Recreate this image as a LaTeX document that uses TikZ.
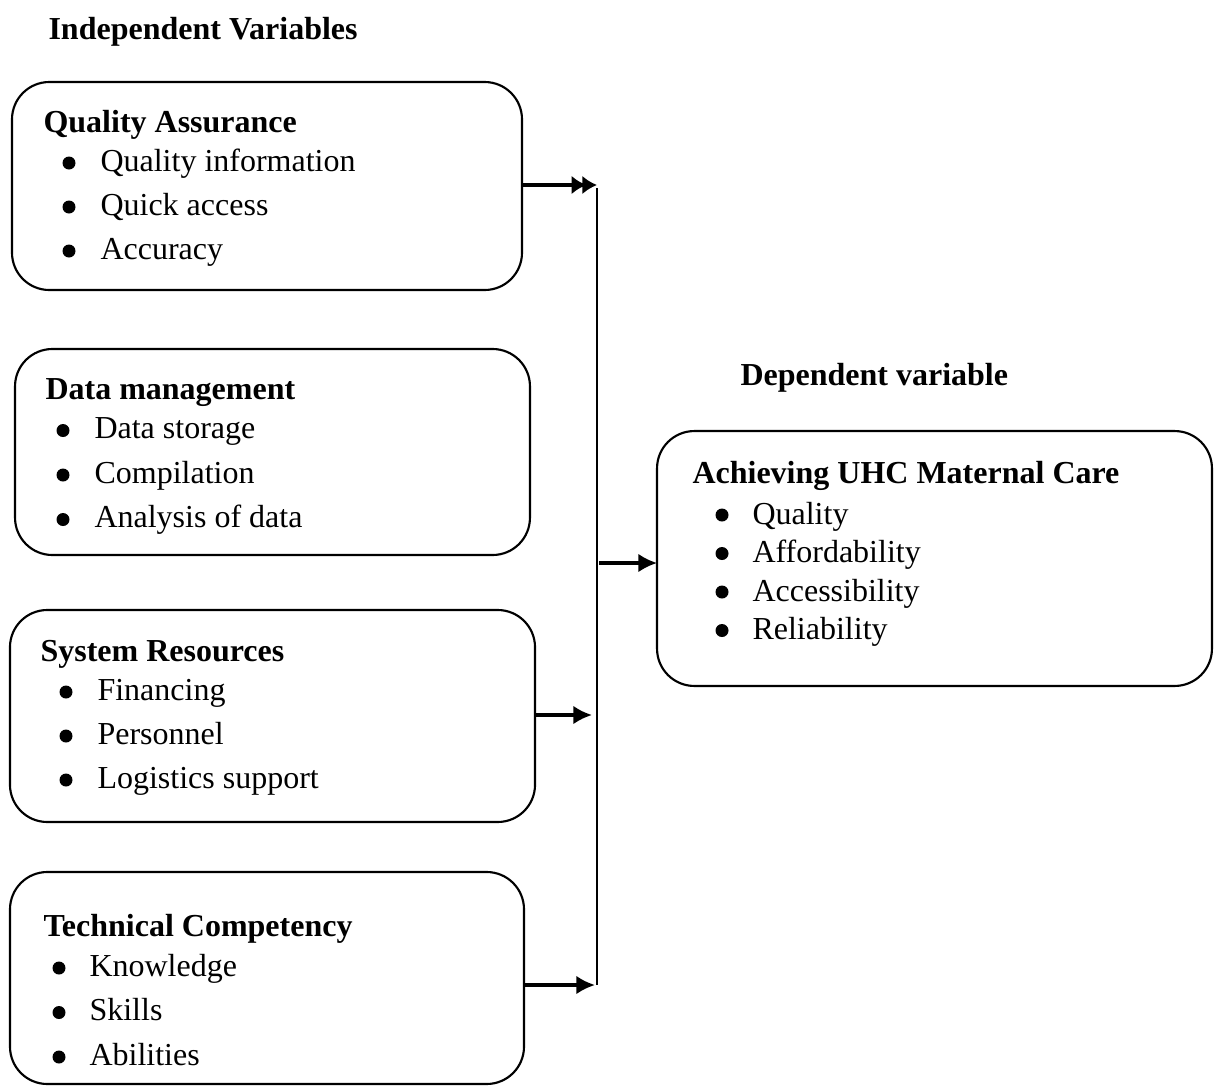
\documentclass[tikz,border=0pt]{standalone}
\usepackage{fontspec}
\setmainfont{Liberation Serif}
\usetikzlibrary{arrows.meta}
\tikzset{
  varbox/.style={draw=black, line width=0.8pt, rounded corners=14pt, inner sep=0pt, outer sep=0pt},
  heading/.style={anchor=base west, inner sep=0pt, font=\fontsize{12}{14}\selectfont\bfseries},
  boxtitle/.style={anchor=base west, inner sep=0pt, font=\fontsize{12}{14}\selectfont\bfseries},
  boxitem/.style={anchor=base west, inner sep=0pt, font=\fontsize{12}{14}\selectfont},
  arrow/.style={-{Latex[length=7pt,width=7pt]}, line width=1.2pt},
  dblarrow/.style={-{Latex[length=5.5pt,width=7pt,sep=-1.5pt]Latex[length=5.5pt,width=7pt]}, line width=1.2pt},
  busline/.style={line width=0.8pt}
}
\begin{document}
\begin{tikzpicture}[x=0.375pt, y=-0.375pt]
\useasboundingbox (0,0) rectangle (1219,1086);
% headings
\node[heading] (indep) at (48,39) {Independent Variables};
\node[heading] (dep) at (740,385) {Dependent variable};
% boxes
\node[varbox, minimum width=191.25pt, minimum height=78pt] (qa) at (267,186) {};
\node[varbox, minimum width=193.1pt, minimum height=77.25pt] (dm) at (272.5,452) {};
\node[varbox, minimum width=196.9pt, minimum height=79.5pt] (sr) at (272.5,716) {};
\node[varbox, minimum width=192.75pt, minimum height=79.5pt] (tc) at (267,978) {};
\node[varbox, minimum width=208.1pt, minimum height=95.6pt] (uhc) at (934.5,558.5) {};
% quality assurance
\node[boxtitle] (qa-t) at (43,132) {Quality Assurance};
\foreach \txt [count=\i] in {Quality information, Quick access, Accuracy} {
  \node[boxitem] (qa-\i) at (100,{127+44*\i}) {\txt};
  \fill (69,{119+44*\i}) circle (6.5);
}
% data management
\node[boxtitle] (dm-t) at (45,399) {Data management};
\foreach \txt [count=\i] in {Data storage, Compilation, Analysis of data} {
  \node[boxitem] (dm-\i) at (94,{394+44.5*\i}) {\txt};
  \fill (63,{386+44.5*\i}) circle (6.5);
}
% system resources
\node[boxtitle] (sr-t) at (40,661) {System Resources};
\foreach \txt [count=\i] in {Financing, Personnel, Logistics support} {
  \node[boxitem] (sr-\i) at (97,{656+44*\i}) {\txt};
  \fill (66,{648+44*\i}) circle (6.5);
}
% technical competency
\node[boxtitle] (tc-t) at (43,936) {Technical Competency};
\foreach \txt [count=\i] in {Knowledge, Skills, Abilities} {
  \node[boxitem] (tc-\i) at (89,{931.5+44.5*\i}) {\txt};
  \fill (59,{923.5+44.5*\i}) circle (6.5);
}
% dependent variable
\node[boxtitle] (uhc-t) at (692,483) {Achieving UHC Maternal Care};
\foreach \txt [count=\i] in {Quality, Affordability, Accessibility, Reliability} {
  \node[boxitem] (uhc-\i) at (752,{485.5+38.5*\i}) {\txt};
  \fill (722,{476.5+38.5*\i}) circle (6.5);
}
% connectors
\coordinate (bustop) at (597,188);
\coordinate (busbot) at (597,985);
\coordinate (bqa) at (597,185);
\coordinate (bsr) at (592,715);
\coordinate (btc) at (595,985);
\coordinate (bout) at (599,563);
\draw[busline] (bustop) -- (busbot);
\draw[dblarrow] (qa.east |- bqa) -- (bqa);
\draw[arrow] (sr.east |- bsr) -- (bsr);
\draw[arrow] (tc.east |- btc) -- (btc);
\draw[arrow] (bout) -- (uhc.west |- bout);
\end{tikzpicture}
\end{document}
